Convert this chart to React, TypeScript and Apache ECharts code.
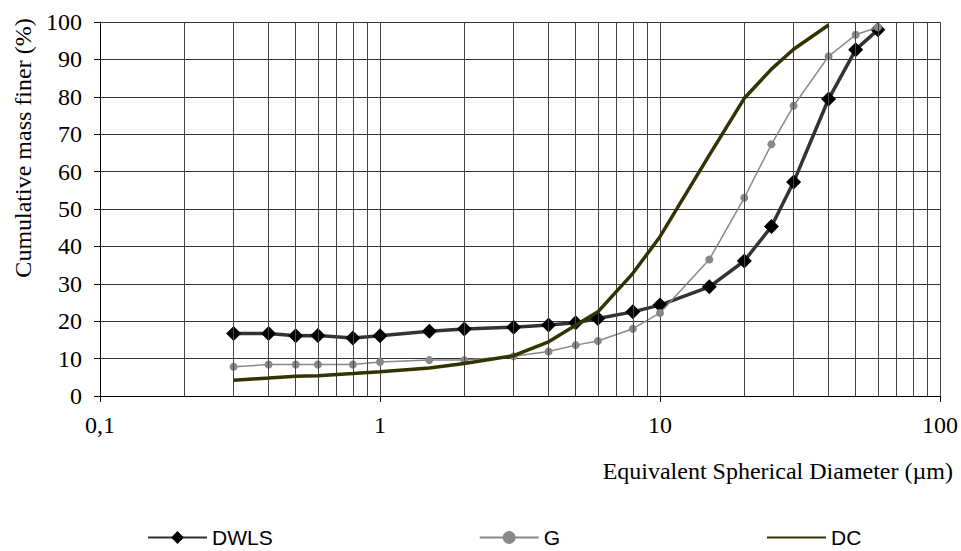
import React, { useEffect, useRef } from "react";
import * as echarts from "echarts";

// Particle diameters (µm)
const diameters = [0.3, 0.4, 0.5, 0.6, 0.8, 1, 1.5, 2, 3, 4, 5, 6, 8, 10, 15, 20, 25, 30, 40, 50, 60];
const dwlsValues = [16.7, 16.7, 16.1, 16.2, 15.5, 16.1, 17.3, 17.9, 18.4, 19.0, 19.6, 20.7, 22.5, 24.3, 29.2, 36.1, 45.3, 57.2, 79.4, 92.6, 97.9];
const gValues = [7.8, 8.4, 8.4, 8.4, 8.4, 9.1, 9.6, 9.6, 10.6, 11.9, 13.6, 14.7, 18.0, 22.2, 36.5, 53.0, 67.3, 77.6, 90.8, 96.6, 98.6];
const dcDiameters = [0.3, 0.4, 0.5, 0.6, 0.8, 1, 1.5, 2, 3, 4, 5, 6, 8, 10, 15, 20, 25, 30, 40];
const dcValues = [4.2, 4.8, 5.3, 5.4, 6.0, 6.5, 7.5, 8.7, 10.8, 14.5, 18.9, 22.5, 32.8, 42.6, 64.4, 79.6, 87.4, 92.7, 99.2];

const minorGridValues = [0.2, 0.3, 0.4, 0.5, 0.6, 0.7, 0.8, 0.9, 2, 3, 4, 5, 6, 7, 8, 9, 20, 30, 40, 50, 60, 70, 80, 90];
const seriesNames = ["DWLS", "G", "DC"];

const xTitle = "Equivalent Spherical Diameter (µm)";
const yTitle = "Cumulative mass finer (%)";

const SERIF = "Liberation Serif";
const SANS = "Liberation Sans";

const serifRich = { s: { fontFamily: SERIF, fontSize: 24, color: "#000" } };

export default function App() {
  const ref = useRef<HTMLDivElement>(null);

  useEffect(() => {
    if (!ref.current) return;
    const chart = echarts.init(ref.current, undefined, { renderer: "svg" });
    const zip = (xs: number[], ys: number[]) => xs.map((x, i) => [x, ys[i]]);
    chart.setOption({
      animation: false,
      backgroundColor: "#ffffff",
      textStyle: { fontFamily: SERIF },
      grid: { left: 100, top: 22, width: 841, height: 374, containLabel: false },
      xAxis: {
        type: "log",
        logBase: 10,
        min: 0.1,
        max: 100,
        axisLine: { show: true, onZero: false, lineStyle: { color: "#000", width: 1 } },
        axisTick: { show: true, length: 6, lineStyle: { color: "#000" } },
        axisLabel: {
          color: "#000",
          fontFamily: SERIF,
          fontSize: 24,
          margin: 17,
          rich: serifRich,
          formatter: (v: number) => "{s|" + (v < 1 ? String(v).replace(".", ",") : String(v)) + "}",
        },
        splitLine: { show: true, lineStyle: { color: "#444", width: 1 } },
      },
      yAxis: {
        type: "value",
        min: 0,
        max: 100,
        interval: 10,
        axisLine: { show: true, lineStyle: { color: "#000", width: 1 } },
        axisTick: { show: true, length: 6, lineStyle: { color: "#000" } },
        axisLabel: {
          color: "#000",
          fontFamily: SERIF,
          fontSize: 24,
          margin: 18,
          rich: serifRich,
          formatter: (v: number) => "{s|" + v + "}",
        },
        splitLine: { show: true, lineStyle: { color: "#333", width: 1 } },
      },
      legend: {
        data: [
          { name: seriesNames[0] },
          { name: seriesNames[1] },
          {
            name: seriesNames[2],
            itemStyle: { color: "rgba(0,0,0,0)", borderColor: "rgba(0,0,0,0)", borderWidth: 0 },
          },
        ],
        left: 142,
        top: 522,
        itemWidth: 59,
        itemHeight: 16,
        itemGap: 206,
        textStyle: { fontFamily: SANS, fontSize: 21, color: "#000" },
      },
      graphic: [
        {
          type: "text",
          x: 23,
          y: 148,
          rotation: Math.PI / 2,
          style: {
            text: yTitle,
            fontFamily: SERIF,
            fontSize: 24,
            fill: "#000",
            align: "center",
            verticalAlign: "middle",
          },
        },
        {
          type: "text",
          x: 953,
          y: 471,
          style: {
            text: xTitle,
            fontFamily: SERIF,
            fontSize: 24,
            fill: "#000",
            align: "right",
            verticalAlign: "middle",
          },
        },
      ],
      series: [
        {
          name: "grid",
          type: "line",
          data: [],
          z: 1,
          silent: true,
          markLine: {
            silent: true,
            symbol: "none",
            label: { show: false },
            lineStyle: { color: "#444", width: 1, type: "solid" },
            data: minorGridValues.map((v) => ({ xAxis: v })),
          },
        },
        {
          name: "DWLS",
          type: "line",
          data: zip(diameters, dwlsValues),
          symbol: "diamond",
          symbolSize: 15,
          z: 3,
          itemStyle: { color: "#000" },
          lineStyle: { color: "#333", width: 3.5 },
        },
        {
          name: "G",
          type: "line",
          data: zip(diameters, gValues),
          symbol: "circle",
          symbolSize: 8,
          z: 4,
          itemStyle: { color: "#888" },
          lineStyle: { color: "#888", width: 1.5 },
        },
        {
          name: "DC",
          type: "line",
          data: zip(dcDiameters, dcValues),
          symbol: "none",
          showSymbol: false,
          z: 5,
          itemStyle: { color: "#333300" },
          lineStyle: { color: "#333300", width: 3.5 },
        },
      ],
    });
    return () => chart.dispose();
  }, []);

  return (
    <div
      ref={ref}
      style={{ position: "fixed", left: 0, top: 0, width: 961, height: 551, background: "#fff" }}
    />
  );
}
